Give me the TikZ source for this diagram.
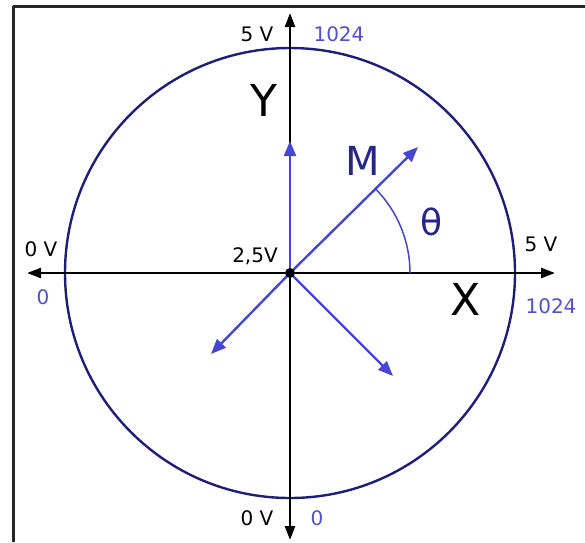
\documentclass[tikz,border=0pt]{standalone}
\usepackage{fontspec}
\setmainfont{DejaVu Sans}
\usetikzlibrary{arrows.meta}
\definecolor{navy}{HTML}{1E1E7A}
\definecolor{vecblue}{HTML}{4646D2}
\definecolor{numblue}{HTML}{5050D0}
\definecolor{labnavy}{HTML}{25258A}
\tikzset{
  axis/.style={line width=2.4pt, black, -{Triangle[length=14pt,width=10pt]}},
  vec/.style={line width=2.4pt, vecblue, -{Triangle[length=15pt,width=12pt]}},
  small/.style={font=\fontsize{20}{24}\selectfont, inner sep=0pt},
  vlab/.style={small, black},
  nlab/.style={small, numblue},
  big/.style={font=\fontsize{44}{50}\selectfont, inner sep=0pt},
}
\begin{document}
\begin{tikzpicture}[x=1pt,y=-1pt]
\useasboundingbox (0,0) rectangle (585,542);
% frame (top and left edges)
\draw[line width=3pt, black!85] (12.5,6) -- (585,6);
\draw[line width=3pt, black!85] (13,6) -- (13,542);
% coordinates
\coordinate (O) at (290,273);
\coordinate (xr) at (555,273);
\coordinate (xl) at (27,273);
\coordinate (yt) at (290,13);
\coordinate (yb) at (290,540);
\coordinate (vy) at (290,141);
\coordinate (vm) at (418,147);
\coordinate (vl) at (211,354);
\coordinate (vr) at (393,376);
\coordinate (arcstart) at (410,273);
% circle
\draw[navy, line width=2.4pt] (O) circle[radius=225];
% axes
\draw[axis] (O) -- (xr);
\draw[axis] (O) -- (xl);
\draw[axis] (O) -- (yt);
\draw[axis] (O) -- (yb);
% blue vectors
\draw[vec] (O) -- (vy);
\draw[vec] (O) -- (vm);
\draw[vec] (O) -- (vl);
\draw[vec] (O) -- (vr);
% angle arc
\draw[vecblue, line width=1.5pt] (arcstart) arc[start angle=0, end angle=-44.5, radius=120];
% origin dot
\fill[black] (O) circle[radius=5];
% labels
\node[vlab] (t5v) at (257,34) {5 V};
\node[nlab] (t1024) at (339,34) {1024};
\node[vlab] (l0v) at (41,249) {0 V};
\node[nlab] (l0) at (43,297) {0};
\node[vlab] (r5v) at (541,244) {5 V};
\node[nlab] (r1024) at (551,306) {1024};
\node[vlab] (b0v) at (257,518) {0 V};
\node[nlab] (b0) at (317,518) {0};
\node[vlab] (c25) at (255,256) {2,5V};
\node[big, black] (ylab) at (264,100) {Y};
\node[big, black] (xlab) at (466,299) {X};
\node[font=\fontsize{40}{46}\selectfont, inner sep=0pt, labnavy] (mlab) at (363,161) {M};
\node[font=\fontsize{36}{42}\selectfont, inner sep=0pt, labnavy] (thlab) at (432,222) {θ};
\end{tikzpicture}
\end{document}
